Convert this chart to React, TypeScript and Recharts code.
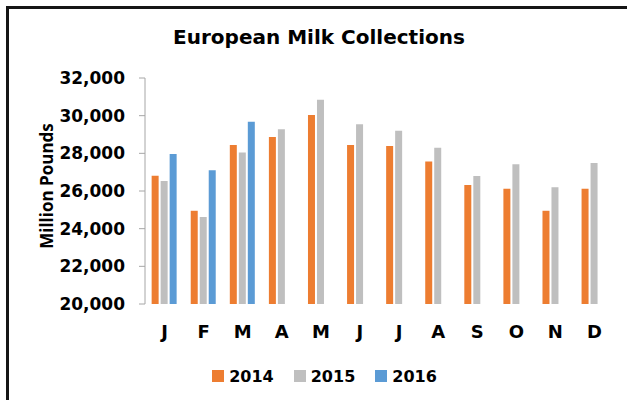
import React from "react";
import {Bar, BarChart, Legend, XAxis, YAxis} from "recharts";

const months = ['J', 'F', 'M', 'A', 'M', 'J', 'J', 'A', 'S', 'O', 'N', 'D'];
const milk2014 = [26810, 24950, 28440, 28870, 30040, 28440, 28390, 27560, 26320, 26120, 24950, 26120];
const milk2015 = [26530, 24620, 28040, 29280, 30850, 29540, 29200, 28300, 26800, 27420, 26200, 27490];
const milk2016: (number | null)[] = [27970, 27100, 29680, null, null, null, null, null, null, null, null, null];
const yTicks = [20000, 22000, 24000, 26000, 28000, 30000, 32000];
const boundaryTicks = [0, 1, 2, 3, 4, 5, 6, 7, 8, 9, 10, 11, 12];

const series = [
    {key: 'y2014', name: '2014', color: '#ED7D31'},
    {key: 'y2015', name: '2015', color: '#BFBFBF'},
    {key: 'y2016', name: '2016', color: '#5B9BD5'},
];

const data = months.map((month, i) => ({
    month,
    y2014: milk2014[i],
    y2015: milk2015[i],
    y2016: milk2016[i],
}));

const FONT = '"Open Sans", sans-serif';
const WIDE = '"DejaVu Sans", sans-serif';
const AXIS_GRAY = '#A6A6A6';

const LegendBox = () => (
    <div style={{height: 24, paddingLeft: 35, display: 'flex', justifyContent: 'center', alignItems: 'center', fontFamily: WIDE, fontWeight: 700, fontSize: 16, color: '#000'}}>
        {series.map(s => (
            <div key={s.key} style={{display: 'flex', alignItems: 'center', margin: '0 10px'}}>
                <div style={{width: 12, height: 12, background: s.color, marginRight: 5}} />
                <span>{s.name}</span>
            </div>
        ))}
    </div>
);

const App = () => {
    return (
        <div style={{position: 'absolute', left: 0, top: 0, width: 627, height: 400, background: '#fff', overflow: 'hidden'}}>
            <div style={{position: 'absolute', left: 6, top: 6, width: 640, height: 420, borderTop: '3px solid #151515', borderLeft: '3px solid #151515'}} />
            <div style={{position: 'absolute', left: 0, width: 638, top: 25, textAlign: 'center', fontFamily: WIDE, fontWeight: 700, fontSize: 20, color: '#000'}}>
                European Milk Collections
            </div>
            <BarChart
                width={627}
                height={400}
                data={data}
                margin={{top: 78, right: 13, bottom: 12, left: 0}}
                barCategoryGap="17%"
                barGap={2}
                style={{position: 'absolute', left: 0, top: 0}}
            >
                <XAxis
                    xAxisId="grid"
                    type="number"
                    domain={[0, 12]}
                    ticks={boundaryTicks}
                    allowDataOverflow
                    height={0}
                    tickSize={6}
                    axisLine={{stroke: AXIS_GRAY}}
                    tickLine={{stroke: AXIS_GRAY}}
                    tick={() => <g />}
                />
                <XAxis
                    xAxisId="cat"
                    dataKey="month"
                    height={60}
                    axisLine={false}
                    tickLine={false}
                    tickSize={0}
                    tickMargin={21}
                    interval={0}
                    tick={{fill: '#000', fontFamily: WIDE, fontWeight: 700, fontSize: 18}}
                />
                <YAxis
                    width={145}
                    domain={[20000, 32000]}
                    ticks={yTicks}
                    allowDataOverflow
                    tickSize={6}
                    tickMargin={14}
                    axisLine={{stroke: AXIS_GRAY}}
                    tickLine={{stroke: AXIS_GRAY}}
                    tickFormatter={(v: number) => v.toLocaleString('en-US')}
                    tick={{fill: '#000', fontFamily: WIDE, fontWeight: 700, fontSize: 17}}
                    label={() => (
                        <text
                            x={46}
                            y={186}
                            transform="rotate(-90, 46, 186)"
                            textAnchor="middle"
                            dominantBaseline="central"
                            fill="#000"
                            style={{fontFamily: FONT, fontWeight: 700, fontSize: 17}}
                        >
                            Million Pounds
                        </text>
                    )}
                />
                <Legend verticalAlign="bottom" content={() => <LegendBox />} />
                {series.map(s => (
                    <Bar key={s.key} xAxisId="cat" dataKey={s.key} name={s.name} fill={s.color} isAnimationActive={false} />
                ))}
            </BarChart>
        </div>
    );
};

export default App;
